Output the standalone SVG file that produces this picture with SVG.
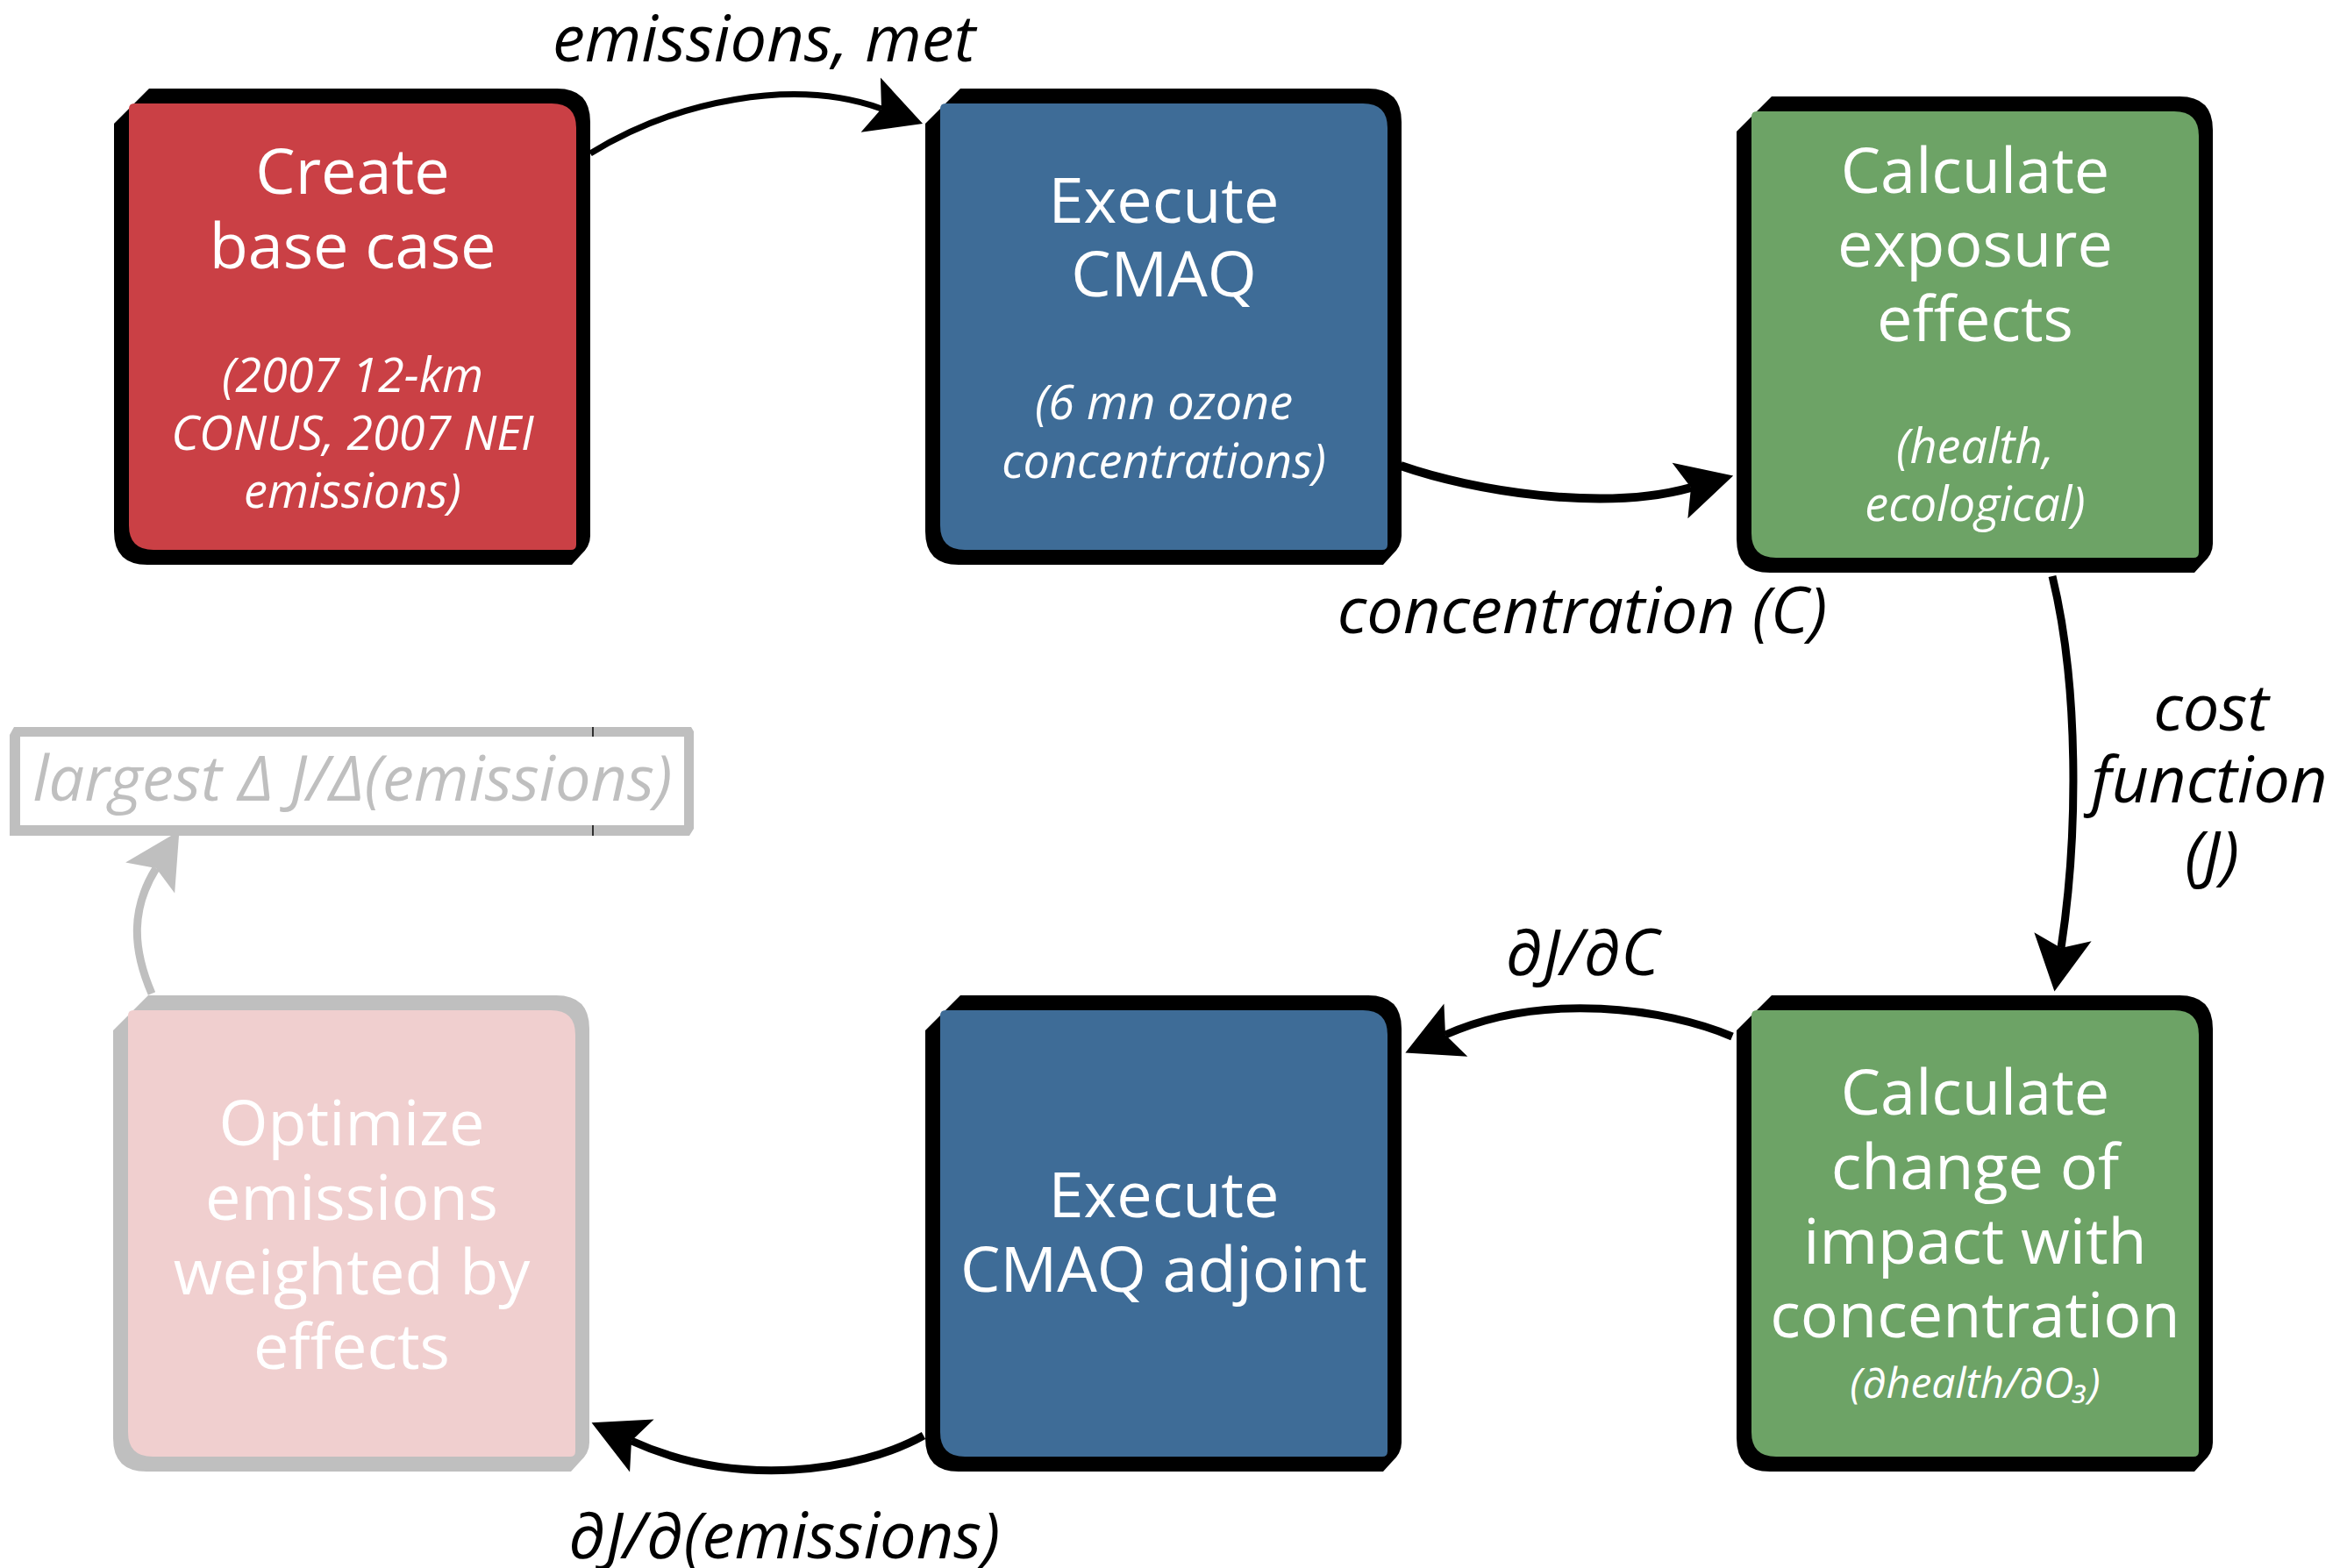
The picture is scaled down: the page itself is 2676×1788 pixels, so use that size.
<svg xmlns="http://www.w3.org/2000/svg" xmlns:xlink="http://www.w3.org/1999/xlink" width="2676" height="1788" viewBox="0 0 2676 1788">
<style>
  .t { font-family: "Open Sans", "Noto Sans", "DejaVu Sans", sans-serif; text-anchor: middle; }
  .main { font-size: 72px; fill: #ffffff; }
  .sub { font-size: 54px; font-style: italic; fill: #ffffff; }
  .lbl { font-size: 74px; font-style: italic; fill: #000000; }
  .glbl { font-size: 72px; font-style: italic; fill: #BFBFBF; }
  .frame { fill: #000000; }
  .gframe { fill: #BFBFBF; }
  .red { fill: #CA4045; }
  .blue { fill: #3E6C97; }
  .green { fill: #6DA366; }
  .pink { fill: #F0CFCF; }
  .conn { fill: none; stroke: #000000; stroke-width: 9; }
  .gconn { fill: none; stroke: #BFBFBF; stroke-width: 9; }
</style>
<defs>
  <path id="frameShape" d="M0,40 L40,0 L505,0 Q543,0 543,38 L543,510 Q543,522 532,532 L522,543 L38,543 Q0,543 0,505 Z"/>
  <path id="innerShape" d="M17,23 Q17,17 23,17 L499,17 Q527,17 527,45 L527,520 Q527,526 521,526 L45,526 Q17,526 17,498 Z"/>
  <marker id="ah" markerUnits="userSpaceOnUse" orient="auto" refX="0" refY="0" markerWidth="120" markerHeight="120" overflow="visible">
    <path d="M50,0 L-13,-33 L0,0 L-13,33 Z" fill="#000000"/>
  </marker>
  <marker id="ahg" markerUnits="userSpaceOnUse" orient="auto" refX="0" refY="0" markerWidth="120" markerHeight="120" overflow="visible">
    <path d="M50,0 L-13,-33 L0,0 L-13,33 Z" fill="#BFBFBF"/>
  </marker>
</defs>
<rect x="0" y="0" width="2676" height="1788" fill="#ffffff"/>

<g id="connectors">
  <path class="conn" d="M673,175 C770,115 905,88 1005,124" marker-end="url(#ah)" style="stroke-width:7"/>
  <path class="conn" d="M1597,531 C1680,560 1828,584 1928,556" marker-end="url(#ah)" style="stroke-width:10"/>
  <path class="conn" d="M2340,657 C2370,780 2370,950 2350,1081" marker-end="url(#ah)"/>
  <path class="conn" d="M1975,1182 C1900,1150 1760,1130 1648,1180" marker-end="url(#ah)"/>
  <path class="conn" d="M1053,1637 C980,1678 840,1698 720,1643" marker-end="url(#ah)"/>
  <path class="gconn" d="M173,1133 C150,1080 150,1035 178,990" marker-end="url(#ahg)"/>
</g>

<g id="edge-labels">
  <text class="t lbl" x="871" y="70">emissions, met</text>
  <text class="t lbl" x="1804" y="722">concentration (C)</text>
  <text class="t lbl" x="2521" y="833">cost</text>
  <text class="t lbl" x="2519" y="915">function</text>
  <text class="t lbl" x="2522" y="1000">(J)</text>
  <text class="t lbl" x="1804" y="1112">∂J/∂C</text>
  <text class="t lbl" x="894" y="1777">∂J/∂(emissions)</text>
</g>

<g id="node-create-base-case">
  <use xlink:href="#frameShape" href="#frameShape" class="frame" transform="translate(130,101)"/>
  <use xlink:href="#innerShape" href="#innerShape" class="red" transform="translate(130,101)"/>
  <text class="t main" x="402" y="221">Create</text>
  <text class="t main" x="402" y="306">base case</text>
  <text class="t sub" x="402" y="447">(2007 12-km</text>
  <text class="t sub" x="402" y="513">CONUS, 2007 NEI</text>
  <text class="t sub" x="402" y="579">emissions)</text>
</g>

<g id="node-execute-cmaq">
  <use xlink:href="#frameShape" href="#frameShape" class="frame" transform="translate(1055,101)"/>
  <use xlink:href="#innerShape" href="#innerShape" class="blue" transform="translate(1055,101)"/>
  <text class="t main" x="1327" y="254">Execute</text>
  <text class="t main" x="1327" y="338">CMAQ</text>
  <text class="t sub" x="1327" y="478">(6 mn ozone</text>
  <text class="t sub" x="1327" y="545">concentrations)</text>
</g>

<g id="node-exposure-effects">
  <use xlink:href="#frameShape" href="#frameShape" class="frame" transform="translate(1980,110)"/>
  <use xlink:href="#innerShape" href="#innerShape" class="green" transform="translate(1980,110)"/>
  <text class="t main" x="2252" y="220">Calculate</text>
  <text class="t main" x="2252" y="304">exposure</text>
  <text class="t main" x="2252" y="389">effects</text>
  <text class="t sub" x="2252" y="528">(health,</text>
  <text class="t sub" x="2252" y="594">ecological)</text>
</g>

<g id="node-change-of-impact">
  <use xlink:href="#frameShape" href="#frameShape" class="frame" transform="translate(1980,1135)"/>
  <use xlink:href="#innerShape" href="#innerShape" class="green" transform="translate(1980,1135)"/>
  <text class="t main" x="2252" y="1271">Calculate</text>
  <text class="t main" x="2252" y="1356">change of</text>
  <text class="t main" x="2252" y="1441">impact with</text>
  <text class="t main" x="2252" y="1525">concentration</text>
  <text class="t sub" x="2252" y="1594" style="font-size:48px">(∂health/∂O₃)</text>
</g>

<g id="node-cmaq-adjoint">
  <use xlink:href="#frameShape" href="#frameShape" class="frame" transform="translate(1055,1135)"/>
  <use xlink:href="#innerShape" href="#innerShape" class="blue" transform="translate(1055,1135)"/>
  <text class="t main" x="1327" y="1388">Execute</text>
  <text class="t main" x="1327" y="1473">CMAQ adjoint</text>
</g>

<g id="node-optimize">
  <use xlink:href="#frameShape" href="#frameShape" class="gframe" transform="translate(129,1135)"/>
  <use xlink:href="#innerShape" href="#innerShape" class="pink" transform="translate(129,1135)"/>
  <text class="t main" x="401" y="1306">Optimize</text>
  <text class="t main" x="401" y="1391">emissions</text>
  <text class="t main" x="401" y="1476">weighted by</text>
  <text class="t main" x="401" y="1561">effects</text>
</g>

<g id="node-largest">
  <path d="M11,838 L16,829 L788,829 L791,834 L791,945 L786,953 L11,953 Z" fill="#BFBFBF"/>
  <rect x="23" y="840" width="757" height="101" fill="#ffffff"/>
  <line x1="676" y1="829" x2="676" y2="840" stroke="#000000" stroke-width="1.5"/>
  <line x1="676" y1="941" x2="676" y2="953" stroke="#000000" stroke-width="1.5"/>
  <text class="t glbl" x="402" y="913">largest Δ J/Δ(emissions)</text>
</g>
</svg>
